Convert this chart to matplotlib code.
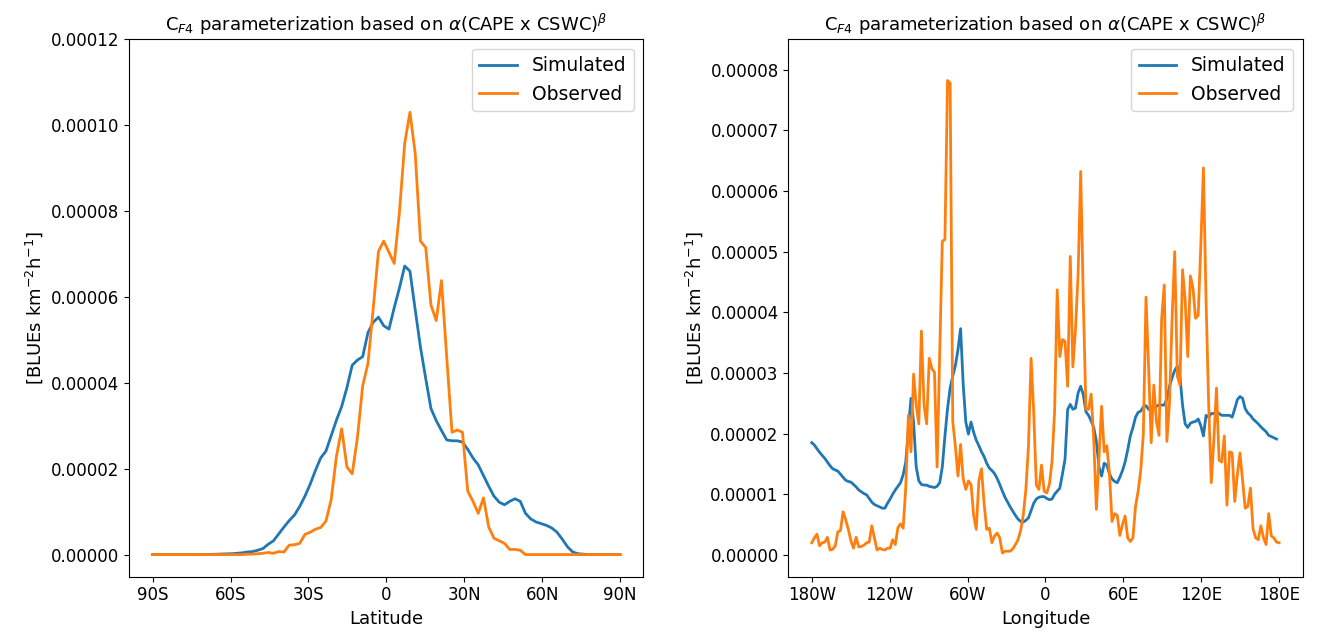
import numpy as np
import matplotlib
matplotlib.use("Agg")
import matplotlib.pyplot as plt

# grids (cell centres spread over the full range, like the source data)
lat = np.linspace(-90, 90, 90)
lon = np.linspace(-180, 180, 180)

# values in units of 1e-5 BLUEs km-2 h-1
scale = 1e-5

lat_sim = [0, 0, 0, 0, 0, 0, 0, 0, 0, 0,
           0.003, 0.005, 0.008, 0.012, 0.016, 0.02, 0.03, 0.04, 0.06, 0.07,
           0.10, 0.14, 0.24, 0.32, 0.48, 0.64, 0.79, 0.92, 1.12, 1.36,
           1.64, 1.96, 2.25, 2.41, 2.77, 3.13, 3.45, 3.89, 4.41, 4.53,
           4.61, 5.17, 5.41, 5.53, 5.33, 5.25, 5.75, 6.21, 6.72, 6.60,
           5.70, 4.83, 4.10, 3.40, 3.12, 2.89, 2.67, 2.65, 2.65, 2.62,
           2.45, 2.25, 2.09, 1.84, 1.59, 1.36, 1.22, 1.16, 1.24, 1.30,
           1.24, 0.96, 0.83, 0.76, 0.72, 0.68, 0.62, 0.52, 0.36, 0.18,
           0.06, 0.02, 0.01, 0, 0, 0, 0, 0, 0, 0]

lat_obs = [0, 0, 0, 0, 0, 0, 0, 0, 0, 0,
           0, 0, 0, 0, 0, 0, 0, 0, 0.01, 0.01,
           0.02, 0.03, 0.05, 0.03, 0.07, 0.06, 0.22, 0.23, 0.26, 0.47,
           0.52, 0.59, 0.63, 0.78, 1.28, 2.29, 2.93, 2.04, 1.88, 2.73,
           3.93, 4.45, 5.73, 7.06, 7.30, 7.04, 6.78, 7.98, 9.58, 10.30,
           9.34, 7.30, 7.15, 5.81, 5.45, 6.38, 4.60, 2.85, 2.90, 2.85,
           1.48, 1.24, 0.96, 1.32, 0.64, 0.38, 0.32, 0.26, 0.12, 0.12,
           0.10, 0, 0, 0, 0, 0, 0, 0, 0, 0,
           0, 0, 0, 0, 0, 0, 0, 0, 0, 0]

lon_sim = [1.85, 1.81, 1.75, 1.69, 1.64, 1.59, 1.53, 1.47, 1.42, 1.40,
           1.38, 1.33, 1.28, 1.23, 1.21, 1.20, 1.16, 1.12, 1.07, 1.04,
           1.01, 0.99, 0.93, 0.87, 0.83, 0.81, 0.79, 0.77, 0.77, 0.85,
           0.92, 1.00, 1.07, 1.13, 1.19, 1.32, 1.53, 2.07, 2.58, 2.19,
           1.45, 1.22, 1.16, 1.15, 1.15, 1.13, 1.12, 1.11, 1.13, 1.19,
           1.45, 1.96, 2.41, 2.75, 2.95, 3.12, 3.38, 3.73, 2.81, 2.19,
           1.99, 2.19, 2.02, 1.89, 1.80, 1.70, 1.62, 1.51, 1.43, 1.39,
           1.34, 1.26, 1.16, 1.05, 0.95, 0.87, 0.79, 0.72, 0.65, 0.59,
           0.55, 0.54, 0.57, 0.61, 0.73, 0.85, 0.92, 0.95, 0.96, 0.96,
           0.93, 0.91, 0.92, 1.00, 1.05, 1.10, 1.33, 1.58, 2.40, 2.48,
           2.40, 2.42, 2.67, 2.78, 2.64, 2.36, 2.30, 2.21, 2.10, 1.87,
           1.45, 1.30, 1.51, 1.48, 1.34, 1.25, 1.21, 1.19, 1.28, 1.39,
           1.53, 1.73, 1.96, 2.10, 2.27, 2.35, 2.37, 2.44, 2.46, 2.40,
           2.44, 2.41, 2.45, 2.47, 2.47, 2.47, 2.57, 2.78, 2.92, 3.04,
           3.11, 2.95, 2.47, 2.16, 2.10, 2.17, 2.19, 2.20, 2.24, 2.13,
           1.96, 2.30, 2.27, 2.33, 2.33, 2.36, 2.33, 2.30, 2.30, 2.30,
           2.30, 2.27, 2.41, 2.56, 2.61, 2.58, 2.41, 2.34, 2.30, 2.24,
           2.20, 2.16, 2.11, 2.07, 2.03, 1.97, 1.95, 1.93, 1.91, np.nan]

lon_obs = [0.20, 0.28, 0.34, 0.15, 0.20, 0.21, 0.29, 0.08, 0.09, 0.15,
           0.38, 0.40, 0.71, 0.58, 0.42, 0.23, 0.11, 0.29, 0.13, 0.14,
           0.16, 0.20, 0.21, 0.48, 0.28, 0.08, 0.11, 0.09, 0.08, 0.11,
           0.11, 0.25, 0.17, 0.45, 0.51, 0.44, 1.11, 2.30, 1.70, 2.98,
           2.47, 2.16, 3.69, 2.47, 2.16, 3.24, 3.07, 3.01, 1.45, 3.30,
           5.17, 5.20, 7.82, 7.78, 2.20, 1.79, 1.30, 1.82, 1.25, 1.08,
           1.22, 1.16, 0.65, 0.42, 1.22, 1.42, 0.85, 0.42, 0.44, 0.20,
           0.31, 0.36, 0.28, 0.03, 0.06, 0.06, 0.06, 0.10, 0.17, 0.25,
           0.40, 0.65, 1.08, 1.80, 3.24, 2.36, 1.15, 1.08, 1.48, 1.05,
           1.02, 1.16, 1.53, 2.36, 4.37, 3.27, 3.55, 3.52, 2.78, 4.92,
           3.10, 3.72, 4.63, 6.32, 4.20, 2.40, 2.40, 2.65, 1.90, 0.75,
           1.60, 2.45, 1.70, 1.80, 1.35, 0.55, 0.68, 0.65, 0.32, 0.50,
           0.64, 0.28, 0.22, 0.28, 0.80, 1.05, 1.40, 2.00, 4.25, 3.10,
           1.85, 2.80, 2.20, 1.97, 3.89, 4.45, 1.87, 2.50, 3.90, 5.00,
           2.95, 2.80, 4.70, 4.20, 3.27, 4.60, 4.40, 3.90, 3.95, 5.10,
           6.38, 4.20, 2.50, 1.19, 1.90, 2.75, 1.56, 1.53, 1.96, 0.82,
           1.70, 1.68, 0.88, 1.33, 1.68, 1.22, 0.77, 0.80, 1.10, 0.43,
           0.28, 0.25, 0.48, 0.28, 0.17, 0.68, 0.31, 0.28, 0.21, 0.20]

lat_ticks = [-90, -60, -30, 0, 30, 60, 90]
lat_labels = ["90S", "60S", "30S", "0", "30N", "60N", "90N"]
lon_ticks = [-180, -120, -60, 0, 60, 120, 180]
lon_labels = ["180W", "120W", "60W", "0", "60E", "120E", "180E"]

title = r"C$_{F4}$ parameterization based on $\alpha$(CAPE x CSWC)$^{\beta}$"
ylab = r"[BLUEs km$^{-2}$h$^{-1}$]"

fig, (ax1, ax2) = plt.subplots(1, 2, figsize=(13.34, 6.39), dpi=100)
plt.subplots_adjust(left=0.0969, right=0.9764, bottom=0.0975, top=0.9385, wspace=0.282)

# latitude
ax1.plot(lat, np.array(lat_sim) * scale, lw=2, label="Simulated")
ax1.plot(lat, np.array(lat_obs) * scale, lw=2, label="Observed")
ax1.set_ylim(top=0.00012)
ax1.set_xticks(lat_ticks)
ax1.set_xticklabels(lat_labels)
ax1.set_xlabel("Latitude")
ax1.set_ylabel(ylab)

# longitude
ax2.plot(lon, np.array(lon_sim) * scale, lw=2, label="Simulated")
ax2.plot(lon, np.array(lon_obs) * scale, lw=2, label="Observed")
ax2.set_ylim(-0.36e-5, 8.5e-5)
ax2.set_xticks(lon_ticks)
ax2.set_xticklabels(lon_labels)
ax2.set_xlabel("Longitude")
ax2.set_ylabel(ylab)

for ax in (ax1, ax2):
    ax.ticklabel_format(axis="y", style="plain", useOffset=False)
    ax.tick_params(labelsize=12)
    ax.xaxis.label.set_size(13)
    ax.yaxis.label.set_size(13)
    ax.set_title(title, fontsize=13)
    ax.legend(fontsize=13.5)

plt.savefig("out.png", dpi=100)
